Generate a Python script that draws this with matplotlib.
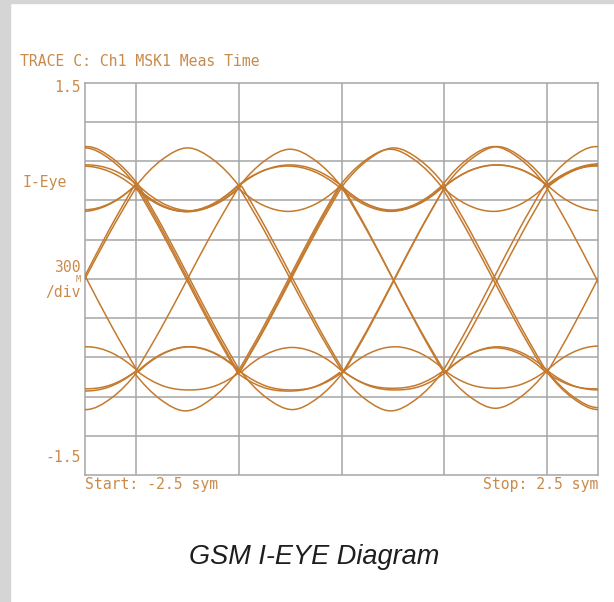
import matplotlib.pyplot as plt
from matplotlib.path import Path
from matplotlib.patches import PathPatch, Rectangle

# values of one symbol interval, read every quarter symbol
arc_top = [0.71, 0.91, 1.00, 0.91, 0.71]
arc_mid = [0.71, 0.83, 0.87, 0.83, 0.71]
dip_top = [0.71, 0.57, 0.52, 0.57, 0.71]
fall = [0.71, 0.37, 0.00, -0.37, -0.71]
arc_bot = [-0.71, -0.91, -1.00, -0.91, -0.71]
arc_low = [-0.71, -0.82, -0.85, -0.82, -0.71]
bump_bot = [-0.71, -0.57, -0.52, -0.57, -0.71]
rise = [-0.71, -0.37, 0.00, 0.37, 0.71]
quarter = [0, 0.25, 0.5, 0.75, 1.0]

shapes = {'A': arc_top, 'B': arc_mid, 'C': dip_top, 'D': fall,
          'a': arc_bot, 'b': arc_low, 'c': bump_bot, 'u': rise}

# symbol starts and the sweeps (one letter per symbol)
sym_start = [-3, -2, -1, 0, 1, 2]
sweeps = ["AABCDa", "ADcuAB", "BCCCCB", "BCDbuB", "CDuDcu", "CCBADb", "DbbuBC",
          "uCDbba", "uDuCAD", "ccaccb", "buADac", "babauA", "acuABB"]
# small timing / level spread of each sweep (sym, gain)
sweep_shift = [0.0, 0.02, -0.02, 0.025, 0.0, -0.025, 0.015, 0.0, -0.015, 0.02, 0.0, -0.02, 0.01]
sweep_gain = [1.0, 1.01, 0.99, 1.0, 1.015, 0.99, 1.0, 0.985, 1.01, 1.0, 0.99, 1.01, 1.0]

y_grid = [-1.2, -0.9, -0.6, -0.3, 0.0, 0.3, 0.6, 0.9, 1.2]
x_grid = [-2, -1, 0, 1, 2]

W, H = 614, 602
fig = plt.figure(figsize=(W / 100, H / 100), dpi=100)
fig.patches.append(Rectangle((0, 0), 9.5 / W, 1, transform=fig.transFigure,
                             color='#d5d5d5', zorder=0))
fig.patches.append(Rectangle((0, 1 - 2.5 / H), 1, 2.5 / H, transform=fig.transFigure,
                             color='#d5d5d5', zorder=0))

ax = fig.add_axes([85 / W, 1 - 475 / H, 513 / W, 392.5 / H])
ax.set_xlim(-2.5, 2.5)
ax.set_ylim(-1.5, 1.5)
ax.set_xticks(x_grid)
ax.set_yticks(y_grid)
ax.tick_params(length=0, labelleft=False, labelbottom=False)
ax.grid(True, color='#a6a6a6', lw=1.1)
ax.set_axisbelow(True)
for s in ax.spines.values():
    s.set_color('#a6a6a6')
    s.set_linewidth(1.1)


def smooth_path(xs, ys):
    # cubic bezier through the read points, each symbol on its own
    verts, codes = [], []
    for i in range(0, len(xs) - 1, 4):
        px, py = xs[i:i + 5], ys[i:i + 5]
        m = []
        for k in range(5):
            if k == 0:
                d = (-3 * py[0] + 4 * py[1] - py[2]) / 2
            elif k == 4:
                d = (3 * py[4] - 4 * py[3] + py[2]) / 2
            else:
                d = (py[k + 1] - py[k - 1]) / 2
            m.append(d)
        if not verts:
            verts.append((px[0], py[0]))
            codes.append(Path.MOVETO)
        for k in range(4):
            h = px[k + 1] - px[k]
            verts += [(px[k] + h / 3, py[k] + m[k] / 3),
                      (px[k + 1] - h / 3, py[k + 1] - m[k + 1] / 3),
                      (px[k + 1], py[k + 1])]
            codes += [Path.CURVE4] * 3
    return Path(verts, codes)


for sw, dt, g in zip(sweeps, sweep_shift, sweep_gain):
    xs, ys = [], []
    for s0, code in zip(sym_start, sw):
        vals = shapes[code]
        for j in range(5):
            if xs and j == 0:
                continue
            xs.append(s0 + quarter[j] + dt)
            ys.append(vals[j] * g)
    ax.add_patch(PathPatch(smooth_path(xs, ys), fill=False, edgecolor='#c47a2e',
                           lw=1.1, zorder=3))

txt = '#c98a4b'
mono = 'DejaVu Sans Mono'


def fxy(x, y):
    return x / W, 1 - y / H


fig.text(*fxy(20, 62), "TRACE C: Ch1 MSK1 Meas Time", color=txt, family=mono,
         fontsize=10.6, ha='left', va='center')
fig.text(*fxy(81, 88), "1.5", color=txt, family=mono, fontsize=10.6, ha='right', va='center')
fig.text(*fxy(81, 457), "-1.5", color=txt, family=mono, fontsize=10.6, ha='right', va='center')
fig.text(*fxy(22, 182), "I-Eye", color=txt, family=mono, fontsize=10.6, ha='left', va='center')
fig.text(*fxy(81, 267), "300", color=txt, family=mono, fontsize=10.6, ha='right', va='center')
fig.text(*fxy(81, 280), "M", color=txt, family=mono, fontsize=6, ha='right', va='center')
fig.text(*fxy(81, 293), "/div", color=txt, family=mono, fontsize=10.6, ha='right', va='center')
fig.text(*fxy(85, 485), "Start: -2.5 sym", color=txt, family=mono, fontsize=10.6,
         ha='left', va='center')
fig.text(*fxy(598, 485), "Stop: 2.5 sym", color=txt, family=mono, fontsize=10.6,
         ha='right', va='center')

fig.text(*fxy(314, 557), "GSM I-EYE Diagram", color='#1e1e1e', family='Liberation Sans',
         style='italic', fontsize=19.5, ha='center', va='center')

fig.savefig('out.png', dpi=100)
